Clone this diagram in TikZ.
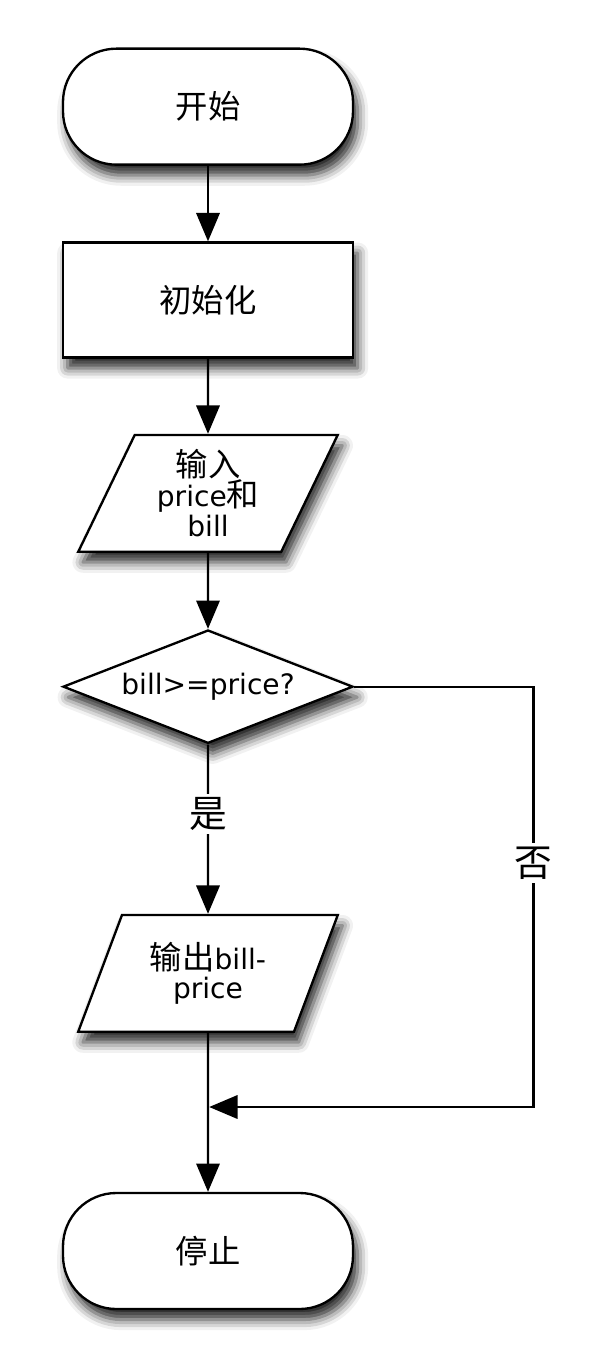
\documentclass[tikz,border=0pt]{standalone}
\usepackage{fontspec}
\setmainfont{DejaVu Sans}
\newfontfamily\cjk[Scale=1.15]{Noto Sans CJK SC}
\usetikzlibrary{shapes.geometric, arrows.meta, positioning, shadows.blur}

\begin{document}
\begin{tikzpicture}[
            node distance=5.8cm,
            >={Triangle[length=0.85cm, width=0.7cm]},
            base/.style={draw, line width=2pt, fill=white,
                font=\fontsize{24}{25.5}\selectfont, align=center,
                blur shadow={shadow xshift=4pt, shadow yshift=-9pt,
                    shadow blur radius=9pt, shadow opacity=85}
            },
            terminal/.style={base, rectangle, rounded corners=1.6cm,
                minimum width=8.7cm, minimum height=3.48cm},
            process/.style={base, rectangle,
                minimum width=8.7cm, minimum height=3.45cm},
            io/.style={base, trapezium, trapezium left angle=66,
                trapezium right angle=114, trapezium stretches=true,
                minimum width=7.8cm, minimum height=3.5cm},
            decision/.style={base, diamond, shape aspect=2.56, inner sep=0pt,
                minimum width=8.7cm, minimum height=3.4cm},
            line/.style={draw, line width=2pt, ->},
            tag/.style={fill=white, inner sep=3pt, font=\fontsize{28}{30}\selectfont\cjk}
        ]
            \useasboundingbox (0,0) rectangle (18.18,-40.56);

            % 流程节点
            \node [terminal] (start) at (6.24,-3.2) {\cjk 开始};
            \node [process, below of=start] (init) {\cjk 初始化};
            \node [io, below of=init] (input) {{\cjk 输入}\\price{\cjk 和}\\bill};
            \node [decision, below of=input] (check) {bill>=price?};
            \node [io, below of=check, node distance=8.6cm] (output) {{\cjk 输出}bill-\\price};
            \node [terminal, below of=output, node distance=8.33cm] (stop) {\cjk 停止};

            % 汇合点
            \coordinate (merge) at (6.24,-33.21);
            \coordinate (corner) at (16.0,-33.21);

            % 连线
            \path [line] (start) -- (init);
            \path [line] (init) -- (input);
            \path [line] (input) -- (check);
            \path [line] (check) -- node [tag, pos=0.41] {是} (output);
            \path [line] (output) -- (stop);
            \path [line, shorten >=1pt] (check.east) -| node [tag, pos=0.71] {否} (corner) -- (merge);
        \end{tikzpicture}
\end{document}
